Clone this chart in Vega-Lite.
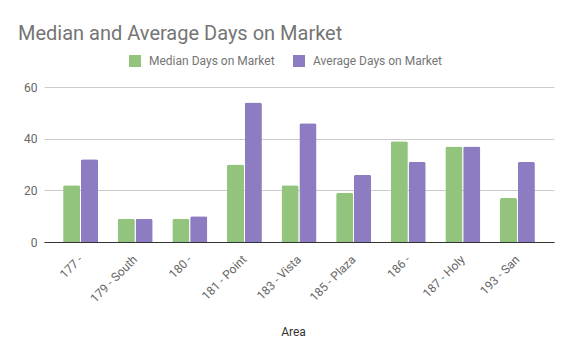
{
  "$schema": "https://vega.github.io/schema/vega-lite/v6.json",
  "width": 510,
  "height": 155,
  "autosize": "none",
  "padding": {"left": 44, "top": 87, "right": 18, "bottom": 112},
  "background": "#ffffff",
  "title": {
    "text": "Median and Average Days on Market",
    "anchor": "start",
    "frame": "group",
    "dx": -26,
    "dy": 21,
    "baseline": "alphabetic",
    "fontSize": 20,
    "font": "Roboto",
    "fontWeight": "normal",
    "color": "#757575",
    "offset": 16
  },
  "data": {
    "values": [
      {"area": "177 -", "series": "Median Days on Market", "days": 22},
      {"area": "177 -", "series": "Average Days on Market", "days": 32},
      {"area": "179 - South", "series": "Median Days on Market", "days": 9},
      {"area": "179 - South", "series": "Average Days on Market", "days": 9},
      {"area": "180 -", "series": "Median Days on Market", "days": 9},
      {"area": "180 -", "series": "Average Days on Market", "days": 10},
      {"area": "181 - Point", "series": "Median Days on Market", "days": 30},
      {"area": "181 - Point", "series": "Average Days on Market", "days": 54},
      {"area": "183 - Vista", "series": "Median Days on Market", "days": 22},
      {"area": "183 - Vista", "series": "Average Days on Market", "days": 46},
      {"area": "185 - Plaza", "series": "Median Days on Market", "days": 19},
      {"area": "185 - Plaza", "series": "Average Days on Market", "days": 26},
      {"area": "186 -", "series": "Median Days on Market", "days": 39},
      {"area": "186 -", "series": "Average Days on Market", "days": 31},
      {"area": "187 - Holy", "series": "Median Days on Market", "days": 37},
      {"area": "187 - Holy", "series": "Average Days on Market", "days": 37},
      {"area": "193 - San", "series": "Median Days on Market", "days": 17},
      {"area": "193 - San", "series": "Average Days on Market", "days": 31}
    ]
  },
  "mark": {"type": "bar", "cornerRadiusTopLeft": 2, "cornerRadiusTopRight": 2},
  "encoding": {
    "x": {
      "field": "area",
      "type": "nominal",
      "sort": null,
      "title": "Area",
      "scale": {"paddingInner": 0.36, "paddingOuter": 0.35},
      "axis": {
        "labelAngle": -45,
        "labelAlign": "right",
        "labelBaseline": "middle",
        "labelFont": "Roboto",
        "labelFontSize": 12,
        "labelColor": "#666666",
        "labelPadding": 15,
        "labelDx": 14,
        "ticks": false,
        "domainColor": "#333333",
        "domainWidth": 1,
        "titleFont": "Roboto",
        "titleFontSize": 12,
        "titleFontWeight": "normal",
        "titleColor": "#333333",
        "titleX": 249,
        "titleY": 93,
        "titleAlign": "center",
        "titleBaseline": "alphabetic"
      }
    },
    "xOffset": {
      "field": "series",
      "type": "nominal",
      "sort": ["Median Days on Market", "Average Days on Market"],
      "scale": {"paddingInner": 0.04}
    },
    "y": {
      "field": "days",
      "type": "quantitative",
      "title": null,
      "scale": {"domain": [0, 60], "nice": false},
      "axis": {
        "values": [0, 20, 40, 60],
        "domain": false,
        "ticks": false,
        "gridColor": "#cccccc",
        "labelFont": "Roboto",
        "labelFontSize": 12,
        "labelColor": "#666666",
        "labelPadding": 7
      }
    },
    "color": {
      "field": "series",
      "type": "nominal",
      "sort": ["Median Days on Market", "Average Days on Market"],
      "scale": {
        "domain": ["Median Days on Market", "Average Days on Market"],
        "range": ["#93c47d", "#8e7cc3"]
      },
      "legend": {
        "title": null,
        "orient": "none",
        "direction": "horizontal",
        "legendX": 85,
        "legendY": -32,
        "symbolType": "square",
        "symbolSize": 144,
        "symbolStrokeWidth": 0,
        "symbolOpacity": 1,
        "labelFont": "Roboto",
        "labelFontSize": 12,
        "labelColor": "#757575",
        "labelOffset": 8,
        "columnPadding": 18
      }
    }
  },
  "config": {"view": {"stroke": null}}
}
